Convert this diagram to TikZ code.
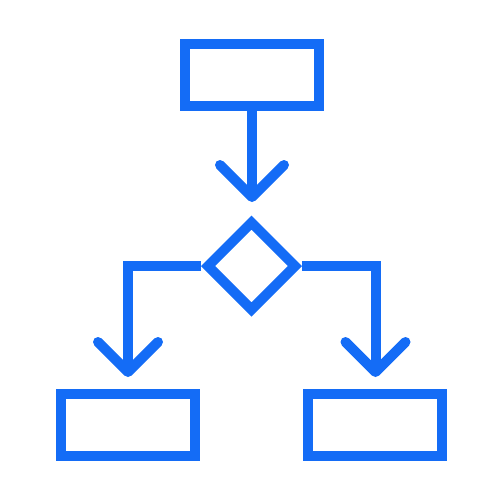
\documentclass[tikz,border=0pt]{standalone}
\usetikzlibrary{shapes.geometric,calc}
\definecolor{iconblue}{RGB}{20,108,246}
\tikzset{
  box/.style={draw=iconblue, line width=10pt, rectangle, minimum width=134pt, minimum height=62pt, inner sep=0pt, line join=miter},
  decision/.style={draw=iconblue, line width=10pt, diamond, aspect=1, minimum width=91pt, minimum height=91pt, inner sep=0pt, line join=miter},
  conn/.style={draw=iconblue, line width=10pt, line join=miter},
  chevron/.style={draw=iconblue, line width=10pt, line cap=round, line join=round}
}
\begin{document}
\begin{tikzpicture}[x=1pt, y=-1pt]
\useasboundingbox (0,0) rectangle (501,501);
\node[box] (top) at (252,75) {};
\node[decision] (dec) at (251.5,266) {};
\node[box] (left) at (128,425) {};
\node[box] (right) at (375,425) {};
\coordinate (tipA) at (252,197);
\coordinate (tipL) at (128,372);
\coordinate (tipR) at (375.5,372);
\draw[conn] (top.south) -- (tipA);
\draw[chevron] ($(tipA)+(-32,-32)$) -- (tipA) -- ($(tipA)+(32,-32)$);
\draw[conn] (dec.west) -| (tipL);
\draw[conn] (dec.east) -| (tipR);
\draw[chevron] ($(tipL)+(-30,-30)$) -- (tipL) -- ($(tipL)+(30,-30)$);
\draw[chevron] ($(tipR)+(-30,-30)$) -- (tipR) -- ($(tipR)+(30,-30)$);
\end{tikzpicture}
\end{document}
